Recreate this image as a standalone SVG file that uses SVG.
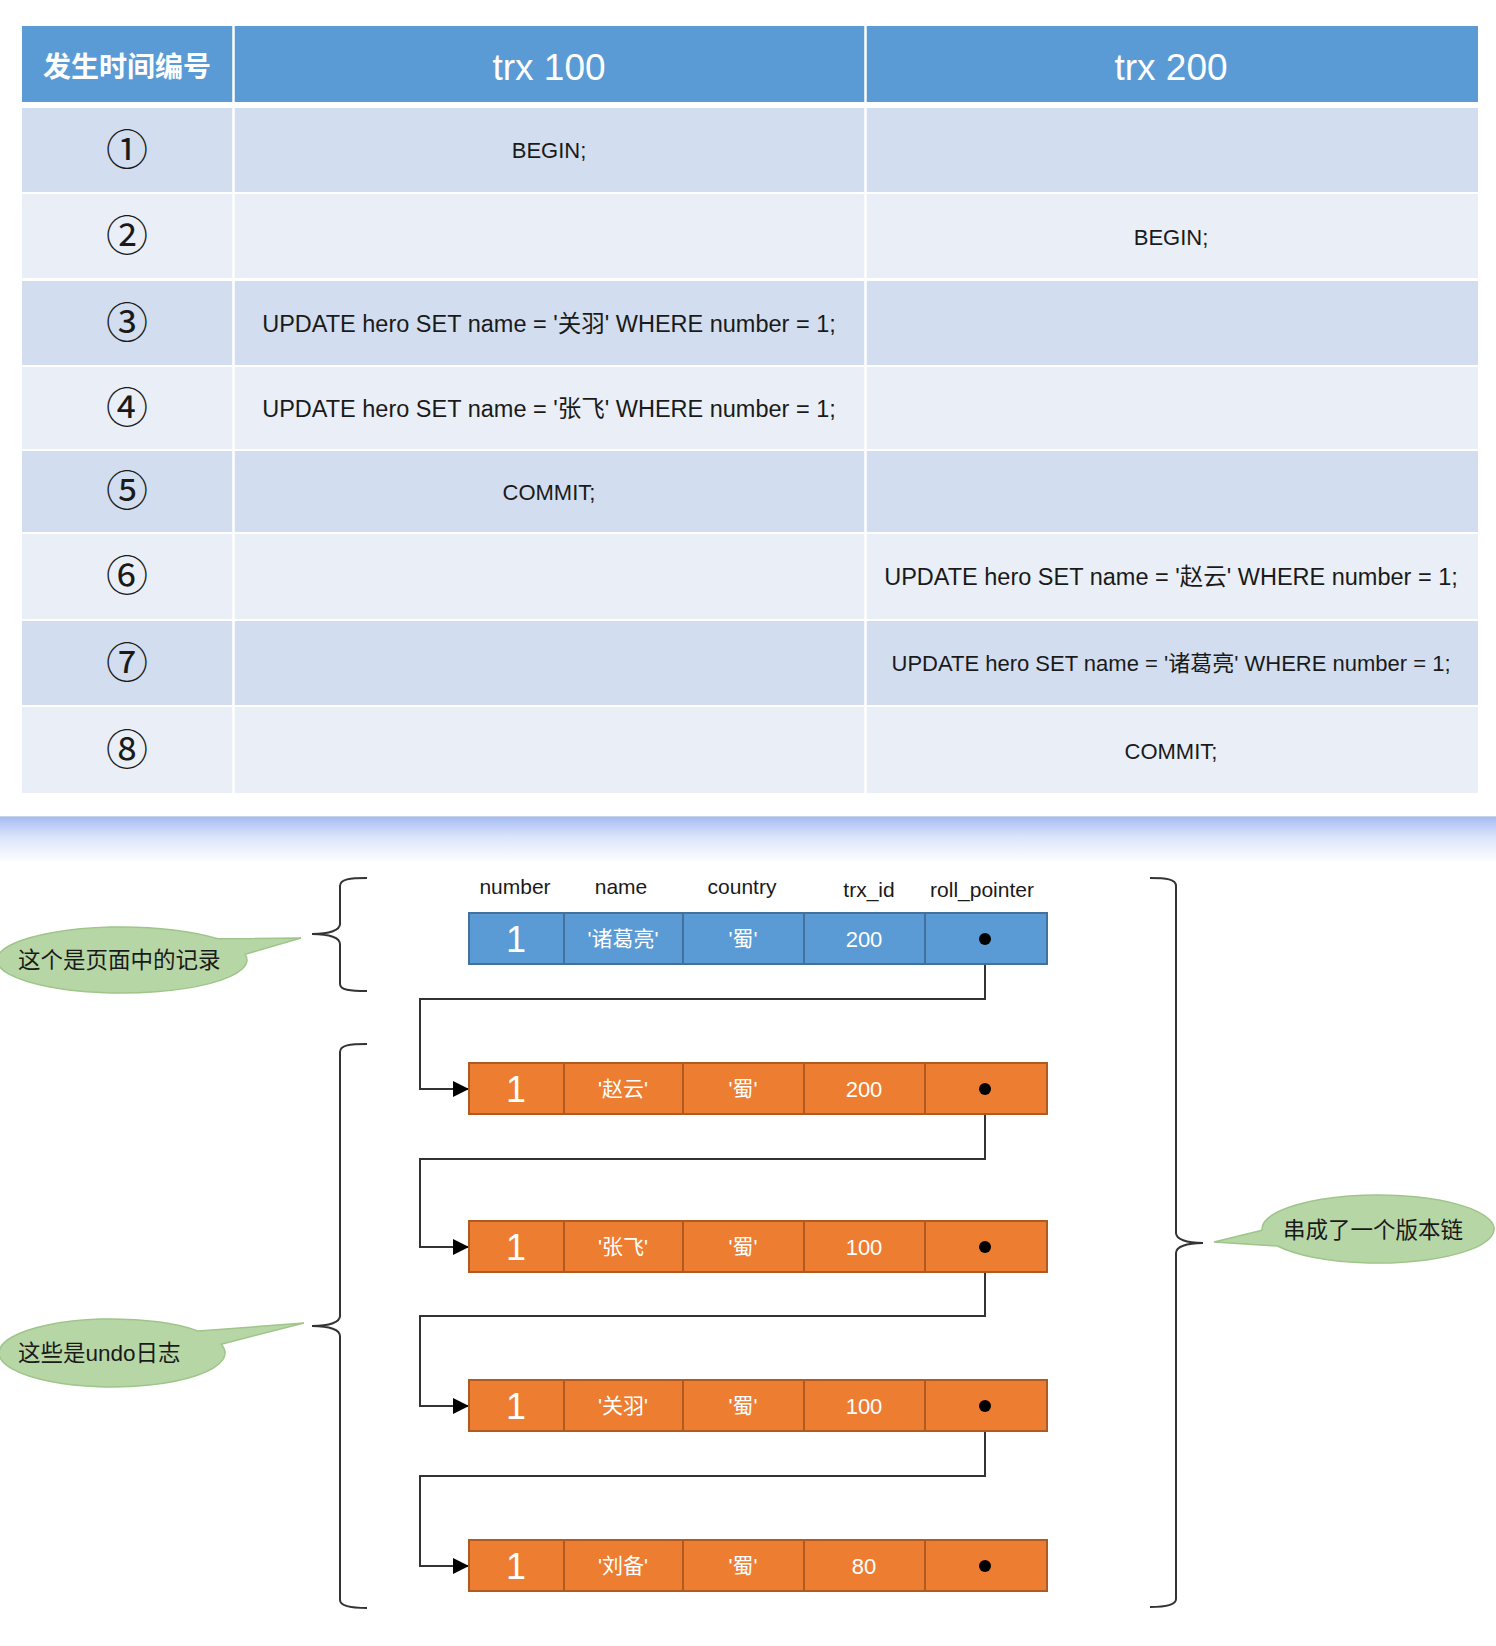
<svg xmlns="http://www.w3.org/2000/svg" width="1496" height="1646" viewBox="0 0 1496 1646">
<defs>
<linearGradient id="sep" x1="0" y1="0" x2="0" y2="1">
<stop offset="0" stop-color="#A6BCF4"/>
<stop offset="0.45" stop-color="#DCE5FA"/>
<stop offset="1" stop-color="#FFFFFF"/>
</linearGradient>
<marker id="arr" markerWidth="16" markerHeight="16" refX="16" refY="8" orient="auto" markerUnits="userSpaceOnUse">
<path d="M0,0 L16,8 L0,16 z" fill="#000"/>
</marker>
</defs>
<style>
.hd{fill:#5B9BD5}
.ro{fill:#D2DEEF}
.re{fill:#EAEFF7}
.vl{stroke:#FFFFFF;stroke-width:2.5}
.ht{font-family:"Liberation Sans","Noto Sans CJK SC",sans-serif;fill:#FFFFFF;text-anchor:middle}
.hc{font-family:"Noto Sans CJK SC",sans-serif;fill:#FFFFFF;font-weight:bold;font-size:28px;text-anchor:middle}
.num{font-family:"Noto Sans CJK SC","DejaVu Sans",sans-serif;font-size:42px;fill:#1a1a1a;text-anchor:middle}
.bt{font-family:"Liberation Sans","Noto Sans CJK SC",sans-serif;font-size:23.5px;fill:#1a1a1a;text-anchor:middle}
.bs{font-size:22px}
.blue{fill:#5B9BD5;stroke:#41719C;stroke-width:2}
.org{fill:#ED7D31;stroke:#AE5A21;stroke-width:2}
.cl{stroke-width:2}
.bl{stroke:#41719C}
.ol{stroke:#AE5A21}
.c1{font-family:"Liberation Sans",sans-serif;font-size:36px;fill:#FFFFFF;text-anchor:middle}
.cn{font-family:"Liberation Sans","Noto Sans CJK SC",sans-serif;font-size:21px;fill:#FFFFFF;text-anchor:middle}
.cd{font-family:"Liberation Sans",sans-serif;font-size:22px;fill:#FFFFFF;text-anchor:middle}
.lab{font-family:"Liberation Sans",sans-serif;font-size:21px;fill:#1a1a1a;text-anchor:middle}
.dot{fill:#000}
.conn{fill:none;stroke:#333;stroke-width:2}
.brace{fill:none;stroke:#333;stroke-width:2}
.call{fill:#B7D6A6;stroke:#9FC58A;stroke-width:1.5}
.ct{font-family:"Noto Sans CJK SC",sans-serif;font-size:22.5px;fill:#1a1a1a}
</style>
<rect x="0" y="0" width="1496" height="1646" fill="#FFFFFF"/>

<g id="table">
<g id="header">
<rect class="hd" x="22" y="26" width="1456" height="76"/>
<text class="hc" x="127" y="77">发生时间编号</text>
<text class="ht" x="549" y="80" font-size="37">trx 100</text>
<text class="ht" x="1171" y="80" font-size="37">trx 200</text>
</g>
<g id="row1">
<rect class="ro" x="22" y="108" width="1456" height="84"/>
<text class="num" x="127" y="165">①</text>
<text class="bt bs" x="549" y="158">BEGIN;</text>
</g>
<g id="row2">
<rect class="re" x="22" y="194" width="1456" height="84"/>
<text class="num" x="127" y="251">②</text>
<text class="bt bs" x="1171" y="245">BEGIN;</text>
</g>
<g id="row3">
<rect class="ro" x="22" y="281" width="1456" height="84"/>
<text class="num" x="127" y="338">③</text>
<text class="bt" x="549" y="332">UPDATE hero SET name = '关羽' WHERE number = 1;</text>
</g>
<g id="row4">
<rect class="re" x="22" y="367" width="1456" height="82"/>
<text class="num" x="127" y="423">④</text>
<text class="bt" x="549" y="417">UPDATE hero SET name = '张飞' WHERE number = 1;</text>
</g>
<g id="row5">
<rect class="ro" x="22" y="451" width="1456" height="81"/>
<text class="num" x="127" y="506">⑤</text>
<text class="bt bs" x="549" y="500">COMMIT;</text>
</g>
<g id="row6">
<rect class="re" x="22" y="534" width="1456" height="85"/>
<text class="num" x="127" y="591">⑥</text>
<text class="bt" x="1171" y="585">UPDATE hero SET name = '赵云' WHERE number = 1;</text>
</g>
<g id="row7">
<rect class="ro" x="22" y="621" width="1456" height="84"/>
<text class="num" x="127" y="678">⑦</text>
<text class="bt bs" x="1171" y="671">UPDATE hero SET name = '诸葛亮' WHERE number = 1;</text>
</g>
<g id="row8">
<rect class="re" x="22" y="707" width="1456" height="86"/>
<text class="num" x="127" y="765">⑧</text>
<text class="bt bs" x="1171" y="759">COMMIT;</text>
</g>
<line class="vl" x1="233.5" y1="26" x2="233.5" y2="793"/>
<line class="vl" x1="865.5" y1="26" x2="865.5" y2="793"/>
</g>

<rect x="0" y="817" width="1496" height="46" fill="url(#sep)"/>
<line x1="0" y1="816.5" x2="1496" y2="816.5" stroke="#C9D3EA" stroke-width="1"/>

<g id="col-labels">
<text class="lab" x="515" y="894">number</text>
<text class="lab" x="621" y="894">name</text>
<text class="lab" x="742" y="894">country</text>
<text class="lab" x="869" y="897">trx_id</text>
<text class="lab" x="982" y="897">roll_pointer</text>
</g>

<g id="connectors">
<path class="conn" d="M985,939 V999 H420 V1089 H469" marker-end="url(#arr)"/>
<path class="conn" d="M985,1089 V1159 H420 V1247 H469" marker-end="url(#arr)"/>
<path class="conn" d="M985,1247 V1316 H420 V1406 H469" marker-end="url(#arr)"/>
<path class="conn" d="M985,1406 V1476 H420 V1566 H469" marker-end="url(#arr)"/>
</g>

<g id="rec-page">
<rect class="blue" x="469" y="913" width="578" height="51"/>
<line class="cl bl" x1="564" y1="913" x2="564" y2="964"/>
<line class="cl bl" x1="683" y1="913" x2="683" y2="964"/>
<line class="cl bl" x1="804" y1="913" x2="804" y2="964"/>
<line class="cl bl" x1="925" y1="913" x2="925" y2="964"/>
<text class="c1" x="516" y="952">1</text>
<text class="cn" x="623" y="946">'诸葛亮'</text>
<text class="cn" x="743" y="946">'蜀'</text>
<text class="cd" x="864" y="947">200</text>
<circle class="dot" cx="985" cy="939" r="6"/>
</g>

<g id="undo-1">
<rect class="org" x="469" y="1063" width="578" height="51"/>
<line class="cl ol" x1="564" y1="1063" x2="564" y2="1114"/>
<line class="cl ol" x1="683" y1="1063" x2="683" y2="1114"/>
<line class="cl ol" x1="804" y1="1063" x2="804" y2="1114"/>
<line class="cl ol" x1="925" y1="1063" x2="925" y2="1114"/>
<text class="c1" x="516" y="1102">1</text>
<text class="cn" x="623" y="1096">'赵云'</text>
<text class="cn" x="743" y="1096">'蜀'</text>
<text class="cd" x="864" y="1097">200</text>
<circle class="dot" cx="985" cy="1089" r="6"/>
</g>

<g id="undo-2">
<rect class="org" x="469" y="1221" width="578" height="51"/>
<line class="cl ol" x1="564" y1="1221" x2="564" y2="1272"/>
<line class="cl ol" x1="683" y1="1221" x2="683" y2="1272"/>
<line class="cl ol" x1="804" y1="1221" x2="804" y2="1272"/>
<line class="cl ol" x1="925" y1="1221" x2="925" y2="1272"/>
<text class="c1" x="516" y="1260">1</text>
<text class="cn" x="623" y="1254">'张飞'</text>
<text class="cn" x="743" y="1254">'蜀'</text>
<text class="cd" x="864" y="1255">100</text>
<circle class="dot" cx="985" cy="1247" r="6"/>
</g>

<g id="undo-3">
<rect class="org" x="469" y="1380" width="578" height="51"/>
<line class="cl ol" x1="564" y1="1380" x2="564" y2="1431"/>
<line class="cl ol" x1="683" y1="1380" x2="683" y2="1431"/>
<line class="cl ol" x1="804" y1="1380" x2="804" y2="1431"/>
<line class="cl ol" x1="925" y1="1380" x2="925" y2="1431"/>
<text class="c1" x="516" y="1419">1</text>
<text class="cn" x="623" y="1413">'关羽'</text>
<text class="cn" x="743" y="1413">'蜀'</text>
<text class="cd" x="864" y="1414">100</text>
<circle class="dot" cx="985" cy="1406" r="6"/>
</g>

<g id="undo-4">
<rect class="org" x="469" y="1540" width="578" height="51"/>
<line class="cl ol" x1="564" y1="1540" x2="564" y2="1591"/>
<line class="cl ol" x1="683" y1="1540" x2="683" y2="1591"/>
<line class="cl ol" x1="804" y1="1540" x2="804" y2="1591"/>
<line class="cl ol" x1="925" y1="1540" x2="925" y2="1591"/>
<text class="c1" x="516" y="1579">1</text>
<text class="cn" x="623" y="1573">'刘备'</text>
<text class="cn" x="743" y="1573">'蜀'</text>
<text class="cd" x="864" y="1574">80</text>
<circle class="dot" cx="985" cy="1566" r="6"/>
</g>

<g id="brace-page">
<path class="brace" d="M367,878 C350,878 340,879 340,886 V924 C340,930 330,934 312,934 C330,934 340,938 340,944 V984 C340,990 350,991 367,991"/>
</g>
<g id="brace-undo">
<path class="brace" d="M367,1044 C350,1044 340,1045 340,1052 V1316 C340,1322 330,1326 312,1326 C330,1326 340,1330 340,1336 V1600 C340,1606 350,1608 367,1608"/>
</g>
<g id="brace-chain">
<path class="brace" d="M1150,878 C1166,878 1176,879 1176,886 V1233 C1176,1239 1186,1243 1203,1243 C1186,1243 1176,1247 1176,1253 V1599 C1176,1605 1166,1607 1150,1607"/>
</g>

<g id="callout-page">
<path class="call" d="M217.8,938.8 L301,938 L245.1,954.3 A125,33 0 1 1 217.8,938.8 Z"/>
<text class="ct" x="18" y="968">这个是页面中的记录</text>
</g>
<g id="callout-undo">
<path class="call" d="M198.6,1331.1 L304,1323 L221.2,1344.2 A113,34 0 1 1 198.6,1331.1 Z"/>
<text class="ct" x="18" y="1361" font-size="22">这些是<tspan font-family="Liberation Sans">undo</tspan>日志</text>
</g>
<g id="callout-chain">
<path class="call" d="M1262.1,1230.2 L1214,1242 L1277.5,1246 A116,34 0 1 0 1262.1,1230.2 Z"/>
<text class="ct" x="1283" y="1238" font-size="23">串成了一个版本链</text>
</g>
</svg>
